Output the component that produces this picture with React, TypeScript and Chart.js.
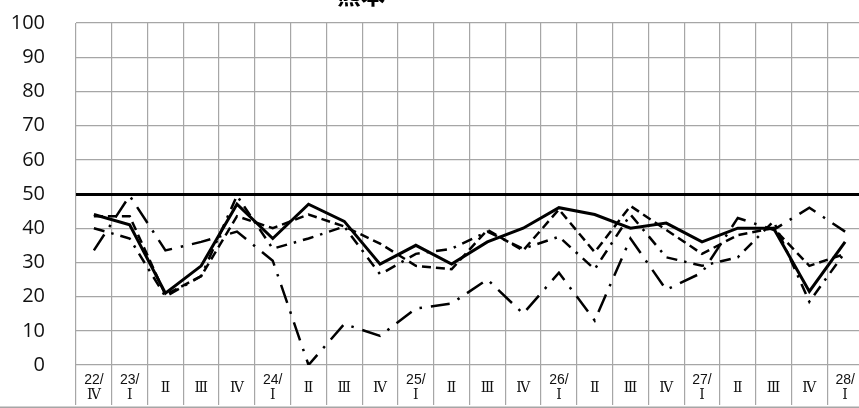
import { useEffect, useRef } from "react";
import { Chart, registerables } from "chart.js";

Chart.register(...registerables);

const chartTitle = "熊本";

const categories: (string | string[])[] = [
  ["22/", "Ⅳ"], ["23/", "Ⅰ"], "Ⅱ", "Ⅲ", "Ⅳ",
  ["24/", "Ⅰ"], "Ⅱ", "Ⅲ", "Ⅳ",
  ["25/", "Ⅰ"], "Ⅱ", "Ⅲ", "Ⅳ",
  ["26/", "Ⅰ"], "Ⅱ", "Ⅲ", "Ⅳ",
  ["27/", "Ⅰ"], "Ⅱ", "Ⅲ", "Ⅳ",
  ["28/", "Ⅰ"],
];

const seriesSolid = [44, 41, 21, 29, 47, 37, 47, 42, 29.5, 35, 29.5, 36, 40, 46, 44, 40, 41.5, 36, 40, 40, 21.5, 36];
const seriesDashed = [43.5, 43.5, 20.5, 26, 43.5, 40, 44, 40.5, 35.5, 29, 28, 39.5, 33.5, 45.5, 33, 46.5, 39.5, 32.5, 38, 40, 29, 32.5];
const seriesLongDashDot = [33.5, 49.5, 33.5, 36, 39, 30.5, 0, 12, 8.5, 16.5, 18, 25, 15, 27, 13, 37, 22, 27, 43, 39.5, 46, 39];
const seriesDashDot = [40, 37, 20, 26, 49.5, 34, 37, 40.5, 26.5, 32.5, 34, 39, 34, 37.5, 28, 44, 31.5, 29, 31.5, 42, 18.5, 33];

const yMin = 0;
const yMax = 100;
const yStep = 10;
const referenceValue = 50;

const SHIFT = 20;

export default function App() {
  const canvasRef = useRef<HTMLCanvasElement>(null);

  useEffect(() => {
    document.body.style.margin = "0";
    const canvas = canvasRef.current!;
    const extras = {
      id: "extras",
      afterDraw(chart: any) {
        const ctx = chart.ctx;
        ctx.save();
        ctx.fillStyle = "#a6a6a6";
        ctx.fillRect(0, chart.height - 1.5, chart.width, 1.5);
        ctx.fillStyle = "#000";
        ctx.font = 'bold 24px "Noto Sans CJK JP"';
        ctx.textAlign = "center";
        ctx.textBaseline = "alphabetic";
        ctx.fillText(chartTitle, 361, 23.5);
        ctx.restore();
      },
    };

    const mk = (data: number[], width: number, dash: number[]) => ({
      data,
      borderColor: "#000",
      backgroundColor: "#000",
      borderWidth: width,
      borderDash: dash,
      pointRadius: 0,
      tension: 0,
      fill: false,
    });

    const chart = new Chart(canvas, {
      type: "line",
      data: {
        labels: categories,
        datasets: [
          mk(seriesSolid, 3, []),
          mk(seriesDashed, 2.5, [9, 5]),
          mk(seriesLongDashDot, 2.5, [19, 9, 2.5, 9]),
          mk(seriesDashDot, 2.5, [11, 7, 2.5, 7]),
        ],
      },
      options: {
        responsive: false,
        animation: false,
        events: [],
        layout: { padding: { top: 39, left: 0, right: 0, bottom: 0 } },
        plugins: {
          legend: { display: false },
          tooltip: { enabled: false },
          title: { display: false },
        },
        scales: {
          x: {
            offset: true,
            border: { display: false },
            grid: {
              offset: true,
              color: "#a6a6a6",
              lineWidth: 1.2,
              drawTicks: true,
              tickLength: 40,
            },
            ticks: {
              autoSkip: false,
              maxRotation: 0,
              crossAlign: "center",
              padding: -25,
              color: "#111",
              font: { family: "'Liberation Sans', 'DejaVu Serif', serif", size: 14, lineHeight: 1.1 },
            },
            afterFit: (s: any) => {
              s.height = 40;
            },
          },
          y: {
            min: yMin,
            max: yMax,
            border: { display: false },
            grid: {
              drawTicks: false,
              color: (c: any) => (c.tick && c.tick.value === referenceValue ? "#000" : "#a6a6a6"),
              lineWidth: (c: any) => (c.tick && c.tick.value === referenceValue ? 3 : 1.2),
            },
            ticks: {
              stepSize: yStep,
              padding: 31,
              color: "#111",
              font: { family: "'Open Sans'", size: 20 },
            },
            afterFit: (s: any) => {
              s.width = 76;
            },
          },
        },
      },
      plugins: [extras],
    });
    return () => chart.destroy();
  }, []);

  return (
    <div style={{ position: "relative", width: 859, height: 408, overflow: "hidden" }}>
      <canvas
        ref={canvasRef}
        width={863}
        height={408 + SHIFT}
        style={{ position: "absolute", left: 0, top: -SHIFT, display: "block" }}
      />
    </div>
  );
}
